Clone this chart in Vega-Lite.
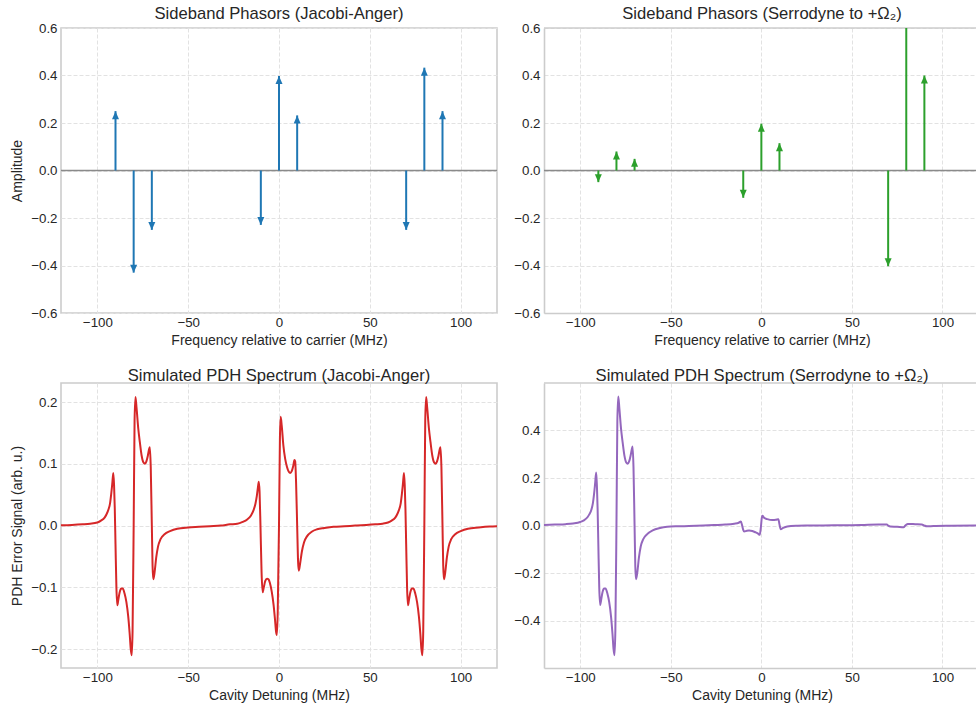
{
  "$schema": "https://vega.github.io/schema/vega-lite/v6.json",
  "background": "white",
  "padding": {"left": 9, "top": 5, "right": 0, "bottom": 0},
  "bounds": "flush",
  "columns": 2,
  "spacing": {"row": 70, "column": 47},
  "config": {
    "font": "Liberation Sans",
    "view": {"stroke": "#cccccc", "strokeWidth": 1.6},
    "axis": {
      "grid": true,
      "gridColor": "#e2e2e2",
      "gridDash": [4, 2],
      "gridWidth": 1,
      "domain": false,
      "ticks": false,
      "tickSize": 0,
      "labelFont": "Liberation Sans",
      "labelFontSize": 13.3,
      "labelColor": "#262626",
      "labelFlush": false,
      "labelOverlap": false,
      "titleFont": "Liberation Sans",
      "titleFontSize": 14,
      "titleFontWeight": "normal",
      "titleColor": "#262626"
    },
    "axisX": {"labelPadding": 2, "titlePadding": 5},
    "axisY": {"labelPadding": 4, "titlePadding": 6},
    "title": {
      "font": "Liberation Sans",
      "fontSize": 16.6,
      "fontWeight": "normal",
      "color": "#262626",
      "anchor": "middle",
      "frame": "group",
      "baseline": "alphabetic",
      "offset": -2
    }
  },
  "datasets": {
    "phasor_ja": [
      {"freq": -90, "amp": 0.25},
      {"freq": -80, "amp": -0.43},
      {"freq": -70, "amp": -0.25},
      {"freq": -10, "amp": -0.229},
      {"freq": 0, "amp": 0.398},
      {"freq": 10, "amp": 0.232},
      {"freq": 70, "amp": -0.25},
      {"freq": 80, "amp": 0.433},
      {"freq": 90, "amp": 0.25}
    ],
    "phasor_serr": [
      {"freq": -90, "amp": -0.049},
      {"freq": -80, "amp": 0.08},
      {"freq": -70, "amp": 0.049},
      {"freq": -10, "amp": -0.115},
      {"freq": 0, "amp": 0.197},
      {"freq": 10, "amp": 0.115},
      {"freq": 70, "amp": -0.403},
      {"freq": 80, "amp": 0.75},
      {"freq": 90, "amp": 0.4}
    ],
    "pdh_ja": [
      {"detuning": -120, "signal": 0.0005}, {"detuning": -114, "signal": 0.001}, {"detuning": -108, "signal": 0.002},
      {"detuning": -104, "signal": 0.003}, {"detuning": -100, "signal": 0.005}, {"detuning": -98, "signal": 0.008},
      {"detuning": -96, "signal": 0.013}, {"detuning": -95, "signal": 0.018}, {"detuning": -94, "signal": 0.025},
      {"detuning": -93, "signal": 0.036}, {"detuning": -92.4, "signal": 0.05}, {"detuning": -91.8, "signal": 0.067},
      {"detuning": -91.2, "signal": 0.085}, {"detuning": -90.8, "signal": 0.066}, {"detuning": -90.4, "signal": 0.028},
      {"detuning": -90.0, "signal": -0.03}, {"detuning": -89.5, "signal": -0.1}, {"detuning": -89.0, "signal": -0.129},
      {"detuning": -88.5, "signal": -0.121}, {"detuning": -87.7, "signal": -0.108}, {"detuning": -86.8, "signal": -0.102},
      {"detuning": -86.0, "signal": -0.102}, {"detuning": -85.0, "signal": -0.11}, {"detuning": -84.0, "signal": -0.124},
      {"detuning": -83.0, "signal": -0.147}, {"detuning": -82.2, "signal": -0.175}, {"detuning": -81.6, "signal": -0.2},
      {"detuning": -81.1, "signal": -0.21}, {"detuning": -80.6, "signal": -0.17}, {"detuning": -80.0, "signal": 0.0},
      {"detuning": -79.5, "signal": 0.17}, {"detuning": -79.0, "signal": 0.208}, {"detuning": -78.4, "signal": 0.19},
      {"detuning": -77.5, "signal": 0.158}, {"detuning": -76.6, "signal": 0.135}, {"detuning": -75.6, "signal": 0.113},
      {"detuning": -74.6, "signal": 0.102}, {"detuning": -73.8, "signal": 0.1}, {"detuning": -73.0, "signal": 0.104},
      {"detuning": -72.2, "signal": 0.113}, {"detuning": -71.5, "signal": 0.124}, {"detuning": -71.1, "signal": 0.127},
      {"detuning": -70.6, "signal": 0.095}, {"detuning": -70.0, "signal": 0.0}, {"detuning": -69.6, "signal": -0.065},
      {"detuning": -69.2, "signal": -0.087}, {"detuning": -68.5, "signal": -0.076}, {"detuning": -67.6, "signal": -0.052},
      {"detuning": -66.6, "signal": -0.034}, {"detuning": -65.2, "signal": -0.022}, {"detuning": -63, "signal": -0.014},
      {"detuning": -60, "signal": -0.009}, {"detuning": -56, "signal": -0.005}, {"detuning": -50, "signal": -0.003},
      {"detuning": -44, "signal": -0.002}, {"detuning": -38, "signal": -0.001}, {"detuning": -32, "signal": 0.0},
      {"detuning": -27, "signal": 0.002}, {"detuning": -23, "signal": 0.003}, {"detuning": -20, "signal": 0.006},
      {"detuning": -17.5, "signal": 0.01}, {"detuning": -15.5, "signal": 0.016}, {"detuning": -14, "signal": 0.025},
      {"detuning": -13, "signal": 0.035}, {"detuning": -12.2, "signal": 0.048}, {"detuning": -11.6, "signal": 0.062},
      {"detuning": -11.1, "signal": 0.071}, {"detuning": -10.7, "signal": 0.055}, {"detuning": -10.2, "signal": 0.0},
      {"detuning": -9.6, "signal": -0.075}, {"detuning": -9.0, "signal": -0.108}, {"detuning": -8.5, "signal": -0.102},
      {"detuning": -7.6, "signal": -0.09}, {"detuning": -6.6, "signal": -0.086}, {"detuning": -5.8, "signal": -0.087},
      {"detuning": -5.0, "signal": -0.093}, {"detuning": -4.0, "signal": -0.107}, {"detuning": -3.0, "signal": -0.128},
      {"detuning": -2.2, "signal": -0.152}, {"detuning": -1.6, "signal": -0.172}, {"detuning": -1.15, "signal": -0.177},
      {"detuning": -0.7, "signal": -0.14}, {"detuning": 0.0, "signal": 0.0}, {"detuning": 0.5, "signal": 0.14},
      {"detuning": 0.9, "signal": 0.176}, {"detuning": 1.5, "signal": 0.162}, {"detuning": 2.4, "signal": 0.13},
      {"detuning": 3.4, "signal": 0.108}, {"detuning": 4.4, "signal": 0.095}, {"detuning": 5.4, "signal": 0.087},
      {"detuning": 6.2, "signal": 0.085}, {"detuning": 7.0, "signal": 0.088}, {"detuning": 7.8, "signal": 0.096},
      {"detuning": 8.5, "signal": 0.106}, {"detuning": 8.9, "signal": 0.104}, {"detuning": 9.4, "signal": 0.07},
      {"detuning": 10.0, "signal": 0.0}, {"detuning": 10.5, "signal": -0.058}, {"detuning": 10.9, "signal": -0.073},
      {"detuning": 11.6, "signal": -0.062}, {"detuning": 12.6, "signal": -0.042}, {"detuning": 13.8, "signal": -0.027},
      {"detuning": 15.5, "signal": -0.017}, {"detuning": 18, "signal": -0.01}, {"detuning": 21, "signal": -0.006},
      {"detuning": 25, "signal": -0.004}, {"detuning": 30, "signal": -0.002}, {"detuning": 36, "signal": -0.001},
      {"detuning": 42, "signal": 0.0}, {"detuning": 48, "signal": 0.001}, {"detuning": 53, "signal": 0.002},
      {"detuning": 57, "signal": 0.003}, {"detuning": 60, "signal": 0.005}, {"detuning": 62, "signal": 0.008},
      {"detuning": 64, "signal": 0.013}, {"detuning": 65, "signal": 0.018}, {"detuning": 66, "signal": 0.025},
      {"detuning": 67, "signal": 0.036}, {"detuning": 67.6, "signal": 0.05}, {"detuning": 68.2, "signal": 0.067},
      {"detuning": 68.8, "signal": 0.085}, {"detuning": 69.2, "signal": 0.066}, {"detuning": 69.6, "signal": 0.028},
      {"detuning": 70.0, "signal": -0.03}, {"detuning": 70.5, "signal": -0.1}, {"detuning": 71.0, "signal": -0.129},
      {"detuning": 71.5, "signal": -0.121}, {"detuning": 72.3, "signal": -0.108}, {"detuning": 73.2, "signal": -0.102},
      {"detuning": 74.0, "signal": -0.102}, {"detuning": 75.0, "signal": -0.11}, {"detuning": 76.0, "signal": -0.124},
      {"detuning": 77.0, "signal": -0.147}, {"detuning": 77.8, "signal": -0.175}, {"detuning": 78.4, "signal": -0.2},
      {"detuning": 78.9, "signal": -0.21}, {"detuning": 79.4, "signal": -0.17}, {"detuning": 80.0, "signal": 0.0},
      {"detuning": 80.5, "signal": 0.17}, {"detuning": 81.0, "signal": 0.208}, {"detuning": 81.6, "signal": 0.19},
      {"detuning": 82.5, "signal": 0.158}, {"detuning": 83.4, "signal": 0.135}, {"detuning": 84.4, "signal": 0.113},
      {"detuning": 85.4, "signal": 0.102}, {"detuning": 86.2, "signal": 0.1}, {"detuning": 87.0, "signal": 0.104},
      {"detuning": 87.8, "signal": 0.113}, {"detuning": 88.5, "signal": 0.124}, {"detuning": 88.9, "signal": 0.127},
      {"detuning": 89.4, "signal": 0.095}, {"detuning": 90.0, "signal": 0.0}, {"detuning": 90.4, "signal": -0.065},
      {"detuning": 90.8, "signal": -0.087}, {"detuning": 91.5, "signal": -0.076}, {"detuning": 92.4, "signal": -0.052},
      {"detuning": 93.4, "signal": -0.034}, {"detuning": 94.8, "signal": -0.022}, {"detuning": 97, "signal": -0.014},
      {"detuning": 100, "signal": -0.009}, {"detuning": 104, "signal": -0.005}, {"detuning": 110, "signal": -0.003},
      {"detuning": 116, "signal": -0.0015}, {"detuning": 120, "signal": -0.001}
    ],
    "pdh_serr": [
      {"detuning": -120, "signal": 0.002}, {"detuning": -114, "signal": 0.004}, {"detuning": -108, "signal": 0.006},
      {"detuning": -104, "signal": 0.009}, {"detuning": -100, "signal": 0.015}, {"detuning": -98, "signal": 0.022},
      {"detuning": -96, "signal": 0.035}, {"detuning": -95, "signal": 0.047}, {"detuning": -94, "signal": 0.063},
      {"detuning": -93, "signal": 0.094}, {"detuning": -92.4, "signal": 0.13}, {"detuning": -91.8, "signal": 0.175},
      {"detuning": -91.2, "signal": 0.223}, {"detuning": -90.8, "signal": 0.17}, {"detuning": -90.4, "signal": 0.07},
      {"detuning": -90.0, "signal": -0.08}, {"detuning": -89.5, "signal": -0.26}, {"detuning": -89.0, "signal": -0.334},
      {"detuning": -88.5, "signal": -0.315}, {"detuning": -87.7, "signal": -0.28}, {"detuning": -86.8, "signal": -0.265},
      {"detuning": -86.0, "signal": -0.265}, {"detuning": -85.0, "signal": -0.286}, {"detuning": -84.0, "signal": -0.322},
      {"detuning": -83.0, "signal": -0.382}, {"detuning": -82.2, "signal": -0.455}, {"detuning": -81.6, "signal": -0.52},
      {"detuning": -81.1, "signal": -0.545}, {"detuning": -80.6, "signal": -0.44}, {"detuning": -80.0, "signal": 0.0},
      {"detuning": -79.5, "signal": 0.44}, {"detuning": -79.0, "signal": 0.543}, {"detuning": -78.4, "signal": 0.494},
      {"detuning": -77.5, "signal": 0.41}, {"detuning": -76.6, "signal": 0.351}, {"detuning": -75.6, "signal": 0.294},
      {"detuning": -74.6, "signal": 0.265}, {"detuning": -73.8, "signal": 0.26}, {"detuning": -73.0, "signal": 0.27},
      {"detuning": -72.2, "signal": 0.294}, {"detuning": -71.5, "signal": 0.322}, {"detuning": -71.1, "signal": 0.333},
      {"detuning": -70.6, "signal": 0.247}, {"detuning": -70.0, "signal": 0.0}, {"detuning": -69.6, "signal": -0.17},
      {"detuning": -69.2, "signal": -0.226}, {"detuning": -68.5, "signal": -0.198}, {"detuning": -67.6, "signal": -0.135},
      {"detuning": -66.6, "signal": -0.088}, {"detuning": -65.2, "signal": -0.057}, {"detuning": -63, "signal": -0.036},
      {"detuning": -60, "signal": -0.02}, {"detuning": -56, "signal": -0.01}, {"detuning": -52, "signal": -0.005},
      {"detuning": -46, "signal": -0.003}, {"detuning": -40, "signal": -0.002}, {"detuning": -32, "signal": 0.0},
      {"detuning": -26, "signal": 0.002}, {"detuning": -20, "signal": 0.004}, {"detuning": -15, "signal": 0.008},
      {"detuning": -12.5, "signal": 0.012}, {"detuning": -11.3, "signal": 0.017}, {"detuning": -10.6, "signal": 0.0},
      {"detuning": -10.0, "signal": -0.018}, {"detuning": -9.5, "signal": -0.025}, {"detuning": -8.0, "signal": -0.022},
      {"detuning": -6.8, "signal": -0.021}, {"detuning": -5.0, "signal": -0.023}, {"detuning": -3.1, "signal": -0.029},
      {"detuning": -1.8, "signal": -0.034}, {"detuning": -0.9, "signal": -0.039}, {"detuning": -0.3, "signal": -0.01},
      {"detuning": 0.2, "signal": 0.03}, {"detuning": 0.55, "signal": 0.041}, {"detuning": 1.5, "signal": 0.033},
      {"detuning": 3.3, "signal": 0.027}, {"detuning": 6.1, "signal": 0.023}, {"detuning": 8.0, "signal": 0.024},
      {"detuning": 9.4, "signal": 0.027}, {"detuning": 10.0, "signal": 0.005}, {"detuning": 10.7, "signal": -0.015},
      {"detuning": 12.0, "signal": -0.01}, {"detuning": 14.3, "signal": -0.004}, {"detuning": 20, "signal": -0.001},
      {"detuning": 26, "signal": 0.0}, {"detuning": 40, "signal": 0.001}, {"detuning": 55, "signal": 0.002},
      {"detuning": 64.7, "signal": 0.004}, {"detuning": 69.3, "signal": 0.004}, {"detuning": 70.0, "signal": 0.0},
      {"detuning": 71.2, "signal": -0.004}, {"detuning": 75, "signal": -0.005}, {"detuning": 78.5, "signal": -0.007},
      {"detuning": 79.5, "signal": 0.0}, {"detuning": 80.9, "signal": 0.007}, {"detuning": 85, "signal": 0.006},
      {"detuning": 88.6, "signal": 0.005}, {"detuning": 90.0, "signal": 0.0}, {"detuning": 91.3, "signal": -0.003},
      {"detuning": 95, "signal": -0.002}, {"detuning": 105, "signal": -0.001}, {"detuning": 118.5, "signal": 0.0}
    ]
  },
  "concat": [
    {
      "title": {"text": "Sideband Phasors (Jacobi-Anger)"},
      "width": 436,
      "height": 285,
      "data": {"name": "phasor_ja"},
      "layer": [
        {
          "transform": [{"aggregate": [{"op": "count", "as": "n"}]}],
          "mark": {"type": "rule", "color": "#8a8a8a", "strokeWidth": 1.5},
          "encoding": {
            "y": {"datum": 0, "type": "quantitative", "scale": {"domain": [-0.6, 0.6]},
                  "axis": {"values": [-0.6, -0.4, -0.2, 0, 0.2, 0.4, 0.6], "format": ".1f", "title": "Amplitude"}}
          }
        },
        {
          "mark": {"type": "rule", "color": "#1f77b4", "strokeWidth": 2},
          "encoding": {
            "x": {"field": "freq", "type": "quantitative", "scale": {"domain": [-120, 120]},
                  "axis": {"values": [-100, -50, 0, 50, 100], "format": "d", "title": "Frequency relative to carrier (MHz)"}},
            "y": {"field": "amp", "type": "quantitative", "scale": {"domain": [-0.6, 0.6]},
                  "axis": {"values": [-0.6, -0.4, -0.2, 0, 0.2, 0.4, 0.6], "format": ".1f", "title": "Amplitude"}},
            "y2": {"datum": 0}
          }
        },
        {
          "mark": {"type": "point", "filled": true, "opacity": 1, "color": "#1f77b4", "size": 64, "strokeWidth": 0},
          "encoding": {
            "x": {"field": "freq", "type": "quantitative", "scale": {"domain": [-120, 120]},
                  "axis": {"values": [-100, -50, 0, 50, 100], "format": "d", "title": "Frequency relative to carrier (MHz)"}},
            "y": {"field": "amp", "type": "quantitative", "scale": {"domain": [-0.6, 0.6]},
                  "axis": {"values": [-0.6, -0.4, -0.2, 0, 0.2, 0.4, 0.6], "format": ".1f", "title": "Amplitude"}},
            "shape": {"condition": {"test": "datum.amp >= 0", "value": "M0,0L-0.875,2L0.875,2Z"}, "value": "M0,0L-0.875,-2L0.875,-2Z"}
          }
        }
      ]
    },
    {
      "title": {"text": "Sideband Phasors (Serrodyne to +Ω₂)", "dx": 2},
      "width": 432,
      "height": 285,
      "view": {"stroke": null},
      "data": {"name": "phasor_serr"},
      "layer": [
        {
          "transform": [{"aggregate": [{"op": "count", "as": "n"}]}],
          "mark": {"type": "rule", "color": "#cccccc", "strokeWidth": 1.6},
          "encoding": {
            "y": {"datum": 0.6, "type": "quantitative", "scale": {"domain": [-0.6, 0.6]},
                  "axis": {"values": [-0.6, -0.4, -0.2, 0, 0.2, 0.4, 0.6], "format": ".1f", "title": null, "domain": true, "domainColor": "#cccccc", "domainWidth": 1.6}}
          }
        },
        {
          "transform": [{"aggregate": [{"op": "count", "as": "n"}]}],
          "mark": {"type": "rule", "color": "#8a8a8a", "strokeWidth": 1.5},
          "encoding": {
            "y": {"datum": 0, "type": "quantitative", "scale": {"domain": [-0.6, 0.6]},
                  "axis": {"values": [-0.6, -0.4, -0.2, 0, 0.2, 0.4, 0.6], "format": ".1f", "title": null, "domain": true, "domainColor": "#cccccc", "domainWidth": 1.6}}
          }
        },
        {
          "mark": {"type": "rule", "color": "#2ca02c", "strokeWidth": 2, "clip": true},
          "encoding": {
            "x": {"field": "freq", "type": "quantitative", "scale": {"domain": [-120, 118.5]},
                  "axis": {"values": [-100, -50, 0, 50, 100], "format": "d", "title": "Frequency relative to carrier (MHz)", "titleX": 218, "domain": true, "domainColor": "#cccccc", "domainWidth": 1.6}},
            "y": {"field": "amp", "type": "quantitative", "scale": {"domain": [-0.6, 0.6]},
                  "axis": {"values": [-0.6, -0.4, -0.2, 0, 0.2, 0.4, 0.6], "format": ".1f", "title": null, "domain": true, "domainColor": "#cccccc", "domainWidth": 1.6}},
            "y2": {"datum": 0}
          }
        },
        {
          "mark": {"type": "point", "filled": true, "opacity": 1, "color": "#2ca02c", "size": 64, "strokeWidth": 0, "clip": true},
          "encoding": {
            "x": {"field": "freq", "type": "quantitative", "scale": {"domain": [-120, 118.5]},
                  "axis": {"values": [-100, -50, 0, 50, 100], "format": "d", "title": "Frequency relative to carrier (MHz)", "titleX": 218, "domain": true, "domainColor": "#cccccc", "domainWidth": 1.6}},
            "y": {"field": "amp", "type": "quantitative", "scale": {"domain": [-0.6, 0.6]},
                  "axis": {"values": [-0.6, -0.4, -0.2, 0, 0.2, 0.4, 0.6], "format": ".1f", "title": null, "domain": true, "domainColor": "#cccccc", "domainWidth": 1.6}},
            "shape": {"condition": {"test": "datum.amp >= 0", "value": "M0,0L-0.875,2L0.875,2Z"}, "value": "M0,0L-0.875,-2L0.875,-2Z"}
          }
        }
      ]
    },
    {
      "title": {"text": "Simulated PDH Spectrum (Jacobi-Anger)"},
      "width": 436,
      "height": 285,
      "data": {"name": "pdh_ja"},
      "mark": {"type": "line", "color": "#d62728", "strokeWidth": 2, "interpolate": "monotone"},
      "encoding": {
        "x": {"field": "detuning", "type": "quantitative", "scale": {"domain": [-120, 120]},
              "axis": {"values": [-100, -50, 0, 50, 100], "format": "d", "title": "Cavity Detuning (MHz)"}},
        "y": {"field": "signal", "type": "quantitative", "scale": {"domain": [-0.2305, 0.2308]},
              "axis": {"values": [-0.2, -0.1, 0, 0.1, 0.2], "format": ".1f", "title": "PDH Error Signal (arb. u.)"}}
      }
    },
    {
      "title": {"text": "Simulated PDH Spectrum (Serrodyne to +Ω₂)", "dx": 2},
      "width": 432,
      "height": 285,
      "view": {"stroke": null},
      "data": {"name": "pdh_serr"},
      "layer": [
        {
          "transform": [{"aggregate": [{"op": "count", "as": "n"}]}],
          "mark": {"type": "rule", "color": "#cccccc", "strokeWidth": 1.6},
          "encoding": {
            "y": {"datum": 0.5996, "type": "quantitative", "scale": {"domain": [-0.599, 0.5996]},
                  "axis": {"values": [-0.4, -0.2, 0, 0.2, 0.4], "format": ".1f", "title": null, "domain": true, "domainColor": "#cccccc", "domainWidth": 1.6}}
          }
        },
        {
          "mark": {"type": "line", "color": "#9467bd", "strokeWidth": 2, "interpolate": "monotone", "clip": true},
          "encoding": {
            "x": {"field": "detuning", "type": "quantitative", "scale": {"domain": [-120, 118.5]},
                  "axis": {"values": [-100, -50, 0, 50, 100], "format": "d", "title": "Cavity Detuning (MHz)", "titleX": 218, "domain": true, "domainColor": "#cccccc", "domainWidth": 1.6}},
            "y": {"field": "signal", "type": "quantitative", "scale": {"domain": [-0.599, 0.5996]},
                  "axis": {"values": [-0.4, -0.2, 0, 0.2, 0.4], "format": ".1f", "title": null, "domain": true, "domainColor": "#cccccc", "domainWidth": 1.6}}
          }
        }
      ]
    }
  ]
}
